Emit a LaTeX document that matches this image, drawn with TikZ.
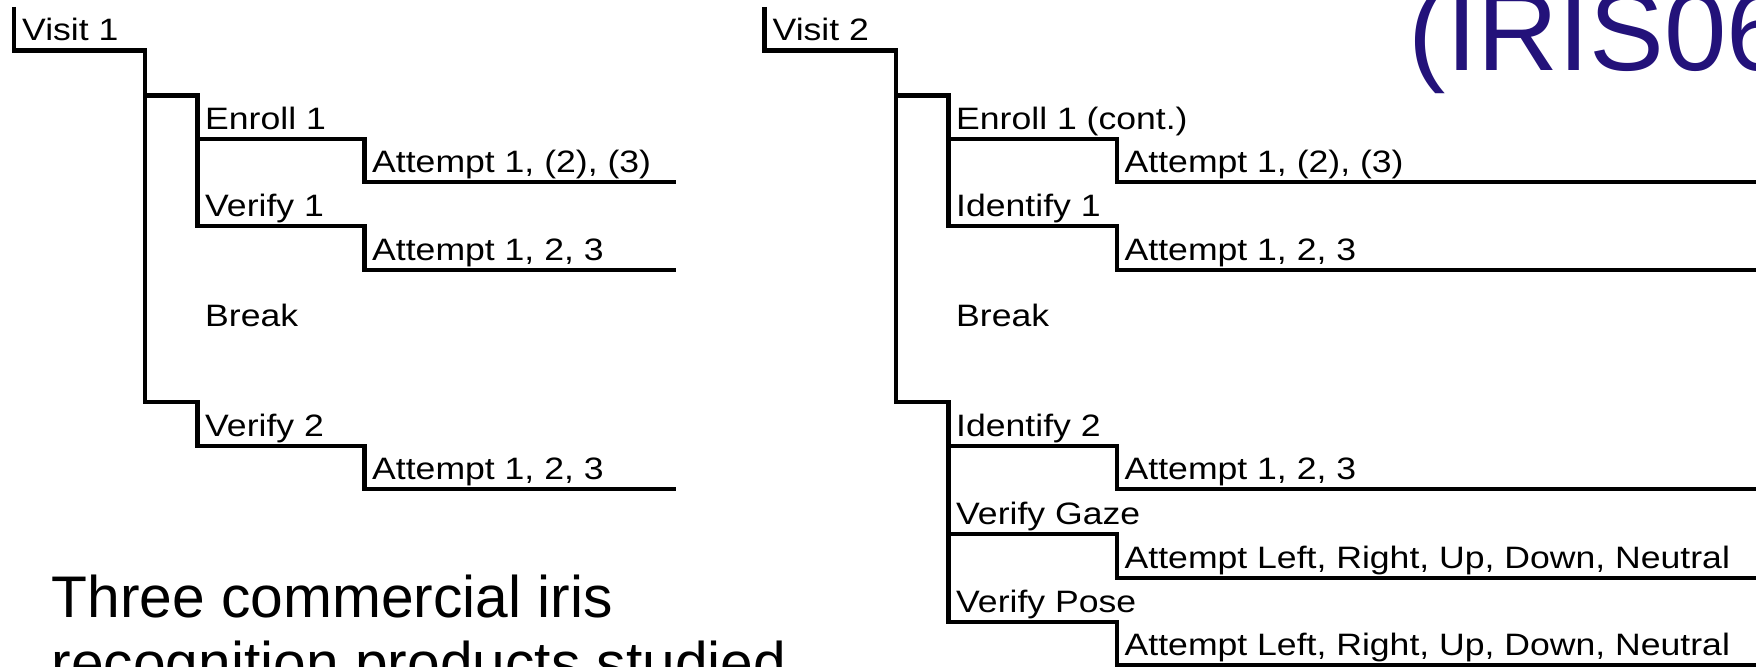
\documentclass[tikz,border=0pt]{standalone}
\usepackage{fontspec}
\setmainfont{Liberation Sans}
\newfontfamily\treefont[FakeStretch=1.15]{Liberation Sans}
\definecolor{navy}{RGB}{35,18,122}
\tikzset{
  tree/.style={line width=1.3pt, line join=miter, line cap=butt},
  lbl/.style={anchor=base west, inner sep=0pt, font=\treefont\fontsize{8.8pt}{10pt}\selectfont},
  big/.style={anchor=base west, inner sep=0pt, font=\fontsize{16.7pt}{18.8pt}\selectfont},
  ttl/.style={anchor=base west, inner sep=0pt, text=navy, font=\fontsize{31.9pt}{36pt}\selectfont}
}
\begin{document}
\begin{tikzpicture}[x=0.01cm,y=-0.01cm]
\useasboundingbox (0,0) rectangle (1756,667);
\clip (0,0) rectangle (1756,667);
% ---------------- left tree (Visit 1) ----------------
\coordinate (a0) at (14,7);
\coordinate (a1) at (14,50.7);
\coordinate (a2) at (145,50.7);
\coordinate (a3) at (145,95.7);
\coordinate (a4) at (145,402);
\coordinate (b1) at (197.5,95.7);
\coordinate (b2) at (197.5,139);
\coordinate (b3) at (197.5,226);
\coordinate (b4) at (197.5,402);
\coordinate (b5) at (197.5,446);
\coordinate (c1) at (364.5,139);
\coordinate (c2) at (364.5,182);
\coordinate (c3) at (364.5,226);
\coordinate (c4) at (364.5,270);
\coordinate (c5) at (364.5,446);
\coordinate (c6) at (364.5,489);
\coordinate (e1) at (676,182);
\coordinate (e2) at (676,270);
\coordinate (e3) at (676,489);
\draw[tree] (a0) -- (a1) -- (a2) -- (a4) -- (b4) -- (b5) -- (c5) -- (c6) -- (e3);
\draw[tree] (a3) -- (b1) -- (b3) -- (c3) -- (c4) -- (e2);
\draw[tree] (b2) -- (c1) -- (c2) -- (e1);
\node[lbl] (visit1) at (21.5,41) {Visit 1};
\node[lbl] (enroll1) at (204.5,129.5) {Enroll 1};
\node[lbl] (att11) at (371.5,172.5) {Attempt 1, (2), (3)};
\node[lbl] (verify1) at (204.5,216.5) {Verify 1};
\node[lbl] (att12) at (371.5,260.5) {Attempt 1, 2, 3};
\node[lbl] (break1) at (204.5,326.5) {Break};
\node[lbl] (verify2) at (204.5,436.5) {Verify 2};
\node[lbl] (att13) at (371.5,479.5) {Attempt 1, 2, 3};
% ---------------- right tree (Visit 2) ----------------
\coordinate (p0) at (764.5,7);
\coordinate (p1) at (764.5,50.7);
\coordinate (p2) at (896,50.7);
\coordinate (p3) at (896,95.7);
\coordinate (p4) at (896,402);
\coordinate (q1) at (948.5,95.7);
\coordinate (q2) at (948.5,139);
\coordinate (q3) at (948.5,226);
\coordinate (q4) at (948.5,402);
\coordinate (q5) at (948.5,446);
\coordinate (q6) at (948.5,534);
\coordinate (q7) at (948.5,622);
\coordinate (r1) at (1117,139);
\coordinate (r2) at (1117,182);
\coordinate (r3) at (1117,226);
\coordinate (r4) at (1117,270);
\coordinate (r5) at (1117,446);
\coordinate (r6) at (1117,489);
\coordinate (r7) at (1117,534);
\coordinate (r8) at (1117,578);
\coordinate (r9) at (1117,622);
\coordinate (r10) at (1117,665);
\coordinate (f1) at (1760,182);
\coordinate (f2) at (1760,270);
\coordinate (f3) at (1760,489);
\coordinate (f4) at (1760,578);
\coordinate (f5) at (1760,665);
\draw[tree] (p0) -- (p1) -- (p2) -- (p4) -- (q4) -- (q7) -- (r9) -- (r10) -- (f5);
\draw[tree] (p3) -- (q1) -- (q3) -- (r3) -- (r4) -- (f2);
\draw[tree] (q2) -- (r1) -- (r2) -- (f1);
\draw[tree] (q5) -- (r5) -- (r6) -- (f3);
\draw[tree] (q6) -- (r7) -- (r8) -- (f4);
\node[lbl] (visit2) at (772,41) {Visit 2};
\node[lbl] (enroll1c) at (955.5,129.5) {Enroll 1 (cont.)};
\node[lbl] (att21) at (1124,172.5) {Attempt 1, (2), (3)};
\node[lbl] (ident1) at (955.5,216.5) {Identify 1};
\node[lbl] (att22) at (1124,260.5) {Attempt 1, 2, 3};
\node[lbl] (break2) at (955.5,326.5) {Break};
\node[lbl] (ident2) at (955.5,436.5) {Identify 2};
\node[lbl] (att23) at (1124,479.5) {Attempt 1, 2, 3};
\node[lbl] (gaze) at (955.5,524.5) {Verify Gaze};
\node[lbl] (att24) at (1124,568.5) {Attempt Left, Right, Up, Down, Neutral};
\node[lbl] (pose) at (955.5,612.5) {Verify Pose};
\node[lbl] (att25) at (1124,655.5) {Attempt Left, Right, Up, Down, Neutral};
% ---------------- titles ----------------
\node[big] (title1) at (51,618) {Three commercial iris};
\node[big] (title2) at (51,684) {recognition products studied};
\node[ttl] (iris) at (1408,71) {(IRIS06};
\end{tikzpicture}
\end{document}
